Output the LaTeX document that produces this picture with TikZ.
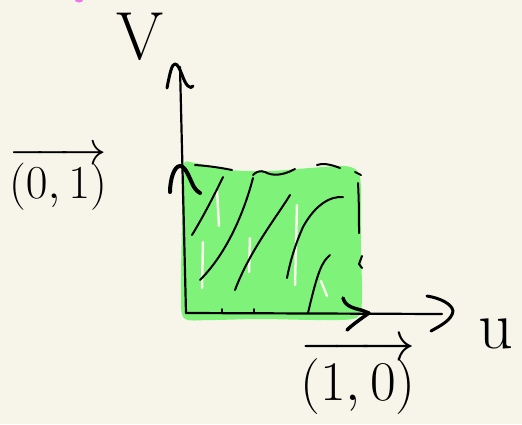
\documentclass[tikz,border=0pt]{standalone}
\usepackage{graphicx}
\usetikzlibrary{calc}
\definecolor{paper}{RGB}{247,245,234}
\definecolor{hilite}{RGB}{127,242,122}
\definecolor{pinkmark}{RGB}{240,120,230}
\tikzset{
  ink/.style={line width=3pt, line cap=round, line join=round, black},
  axisline/.style={line width=2.2pt, line cap=round, black},
  hatch/.style={line width=2pt, line cap=round, line join=round, black},
  streak/.style={line width=2.5pt, line cap=round, paper},
  lbl/.style={inner sep=0pt, anchor=base}
}
\begin{document}
\begin{tikzpicture}[x=1pt,y=-1pt]
\fill[paper] (0,0) rectangle (522,424);
\useasboundingbox (0,0) rectangle (522,424);
% pink mark at top
\fill[pinkmark] (79,0) ellipse (4 and 2.5);
% green region
\fill[hilite] plot[smooth cycle, tension=0.5] coordinates {(183,166) (195,163) (230,170) (270,171) (310,168) (345,166) (358,172) (361,190) (361,250) (362,300) (356,318) (320,320) (260,319) (210,320) (184,318) (181,290) (182,220)};
% light streaks in the fill
\draw[streak] (217,190) -- (219,226);
\draw[streak] (203,242) -- (202,288);
\draw[streak] (250,238) -- (249,272);
\draw[streak] (297,205) -- (295,285);
\draw[streak] (321,281) -- (327,296);
% axes
\coordinate (O) at (186,313);
\coordinate (ytop) at (180,67);
\coordinate (xend) at (442,314);
\draw[axisline] (O) -- (ytop);
\draw[axisline] (O) -- (xend);
% axis arrow heads
\draw[ink] (167,88) .. controls (170,72) and (172,64) .. (175,64) .. controls (180,64) and (183,82) .. (188,86) .. controls (190,88) and (192,88) .. (193,86);
\draw[ink] (427,296) .. controls (440,298) and (452,304) .. (453,311) .. controls (452,320) and (440,326) .. (431,331);
% basis vector heads
\draw[ink, line width=3.5pt] (343,298) .. controls (345,305) and (350,307) .. (357,309) .. controls (362,310) and (366,312) .. (369,313) .. controls (362,318) and (352,325) .. (347,330);
\draw[ink, line width=4pt] (170,192) .. controls (170,180) and (174,166) .. (180,166) .. controls (186,166) and (190,180) .. (194,187) .. controls (196,190) and (198,192) .. (200,193);
% hatching
\draw[hatch] (223,177) .. controls (212,200) and (200,222) .. (192,235);
\draw[hatch] (253,178) .. controls (246,205) and (230,250) .. (200,280);
\draw[hatch] (290,195) .. controls (278,215) and (250,250) .. (235,290);
\draw[hatch] (343,197) .. controls (330,196) and (315,205) .. (303,227) .. controls (295,245) and (290,262) .. (287,278);
\draw[hatch] (330,255) .. controls (322,262) and (318,270) .. (308,313);
\draw[hatch] (358,183) .. controls (359,200) and (359,220) .. (359,233);
\draw[hatch] (362,256) -- (359,264) -- (362,268);
\draw[hatch] (195,165) .. controls (210,166) and (222,168) .. (232,170);
\draw[hatch] (253,175) .. controls (256,172) and (260,170) .. (265,172) .. controls (272,176) and (282,176) .. (295,169);
\draw[hatch] (317,165) .. controls (322,163) and (330,164) .. (340,168);
\draw[hatch] (355,172) -- (361,175);
\draw[hatch] (222,309) -- (222,313);
\draw[hatch] (254,309) -- (254,313);
% labels
\node[lbl, font=\fontsize{68}{68}\selectfont] (vlab) at (140,59) {V};
\node[lbl, font=\fontsize{68}{68}\selectfont] (ulab) at (496,348) {u};
\node[lbl, font=\fontsize{24}{24}\selectfont] (e2) at (58,198) {\scalebox{1.9}{$\overrightarrow{(0,1)}$}};
\node[lbl, font=\fontsize{24}{24}\selectfont] (e1) at (358,400) {\scalebox{2.25}{$\overrightarrow{(1,0)}$}};
\end{tikzpicture}
\end{document}
